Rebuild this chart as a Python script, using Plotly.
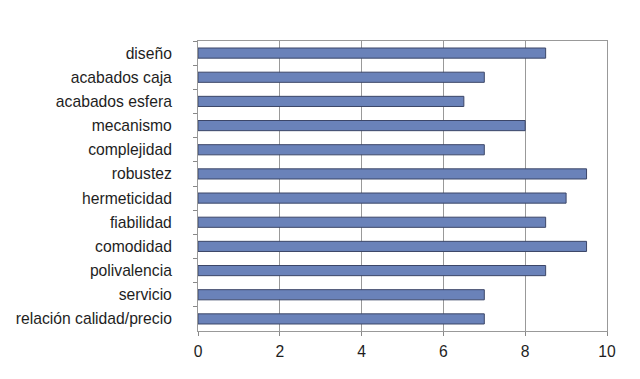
import plotly.graph_objects as go

categories = ["diseño", "acabados caja", "acabados esfera", "mecanismo", "complejidad",
              "robustez", "hermeticidad", "fiabilidad", "comodidad", "polivalencia",
              "servicio", "relación calidad/precio"]
values = [8.5, 7, 6.5, 8, 7, 9.5, 9, 8.5, 9.5, 8.5, 7, 7]
x_ticks = [0, 2, 4, 6, 8, 10]

fig = go.Figure(go.Bar(
    x=values, y=categories, orientation="h",
    marker=dict(color="#6A82B9", line=dict(color="#3C4668", width=1)),
))

fig.update_layout(
    width=640, height=379,
    margin=dict(l=190, r=41, t=33, b=56),
    paper_bgcolor="white", plot_bgcolor="white",
    bargap=0.58,
    showlegend=False,
    font=dict(family="Liberation Sans, Arial, sans-serif", size=15.7, color="#1e1e1e"),
)
fig.update_xaxes(
    range=[0, 10], tickvals=x_ticks, ticks="outside", ticklen=4, tickcolor="#888888",
    showgrid=True, gridcolor="#999999", gridwidth=1,
    showline=True, linecolor="#999999", mirror=True, zeroline=False,
    ticklabelstandoff=2, automargin=False,
)
fig.update_yaxes(
    autorange="reversed", categoryorder="array", categoryarray=categories,
    ticks="outside", ticklen=4, tickcolor="#888888", tickson="boundaries",
    showgrid=False, showline=True, linecolor="#999999", mirror=True,
    ticklabelstandoff=22, automargin=False,
)

fig.write_html("out.html")
